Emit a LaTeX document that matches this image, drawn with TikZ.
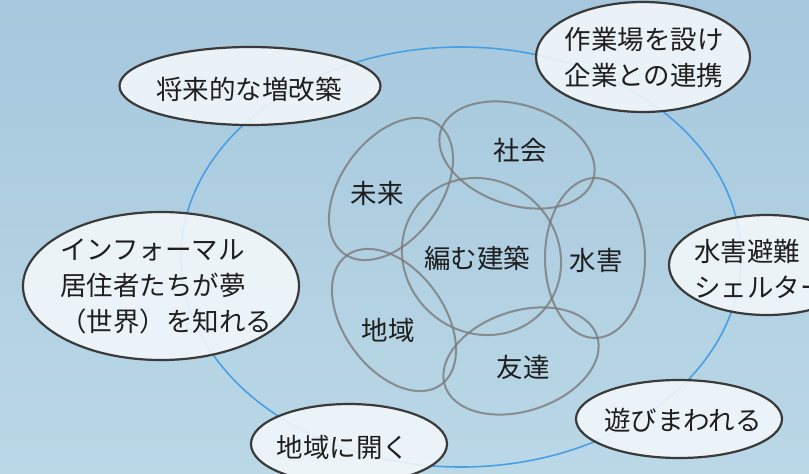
\documentclass[tikz,border=0pt]{standalone}
\usepackage{fontspec}
\setmainfont{Noto Sans CJK JP}
\usetikzlibrary{shapes.geometric}
\definecolor{bgtop}{HTML}{A6C7DD}
\definecolor{bgbot}{HTML}{BAD8E6}
\definecolor{ringblue}{HTML}{4A9FE2}
\definecolor{petalgray}{HTML}{7A7A7A}
\definecolor{bubbleline}{HTML}{3A3A3A}
\definecolor{bubblefill}{HTML}{F4F8FB}
\definecolor{inktext}{HTML}{1E1E1E}
\tikzset{
  petal/.style={ellipse, draw=petalgray, draw opacity=0.8, line width=2pt, inner sep=0pt,
    minimum width=160pt, minimum height=100pt},
  bubble/.style={ellipse, draw=bubbleline, line width=2.2pt, fill=bubblefill, fill opacity=0.88, inner sep=0pt},
  lbl/.style={text=inktext, inner sep=0pt, font=\fontsize{26.5}{36}\selectfont},
}
\begin{document}
\begin{tikzpicture}[x=1pt,y=-1pt]
\useasboundingbox (0,0) rectangle (809,474);
\clip (0,0) rectangle (809,474);
\shade[top color=bgtop, bottom color=bgbot] (0,0) rectangle (809,474);
% outer ring
\node[ellipse, draw=ringblue, line width=1.6pt, inner sep=0pt, minimum width=560pt, minimum height=420pt] (ring) at (461,257) {};
% petals
\node[petal, rotate=-18] (shakai) at (517,155) {};
\node[petal, rotate=90] (suigai) at (595,258) {};
\node[petal, rotate=18] (tomodachi) at (521,361) {};
\node[petal, rotate=-54] (chiiki) at (394,320) {};
\node[petal, rotate=54] (mirai) at (391,189) {};
\node[petal, rotate=-40, minimum width=164pt, minimum height=152pt] (core) at (481.5,256.5) {};
% petal labels
\node[lbl] (tshakai) at (520,150) {社会};
\node[lbl] (tmirai) at (377,193) {未来};
\node[lbl] (tcore) at (477,258) {編む建築};
\node[lbl] (tsuigai) at (596,260) {水害};
\node[lbl] (tchiiki) at (388,330) {地域};
\node[lbl] (ttomo) at (523,367) {友達};
% bubbles
\node[bubble, minimum width=261pt, minimum height=78pt] (b1) at (250,86) {};
\node[bubble, minimum width=214pt, minimum height=110pt] (b2) at (643,57) {};
\node[bubble, minimum width=276pt, minimum height=148pt] (b3) at (161,286) {};
\node[bubble, minimum width=196pt, minimum height=100pt] (b4) at (767,265) {};
\node[bubble, minimum width=206pt, minimum height=78pt] (b5) at (679,419) {};
\node[bubble, minimum width=196pt, minimum height=80pt] (b6) at (349,444) {};
% bubble texts
\node[lbl] (t1) at (249,89) {将来的な増改築};
\node[lbl, align=center] (t2) at (644,57) {作業場を設け\\企業との連携};
\node[lbl, align=left, anchor=west] (t3) at (60,286) {インフォーマル\\居住者たちが夢\\（世界）を知れる};
\node[lbl, align=left, anchor=west] (t4) at (694,269) {水害避難\\シェルター};
\node[lbl] (t5) at (683,420) {遊びまわれる};
\node[lbl] (t6) at (343,447) {地域に開く};
\end{tikzpicture}
\end{document}
